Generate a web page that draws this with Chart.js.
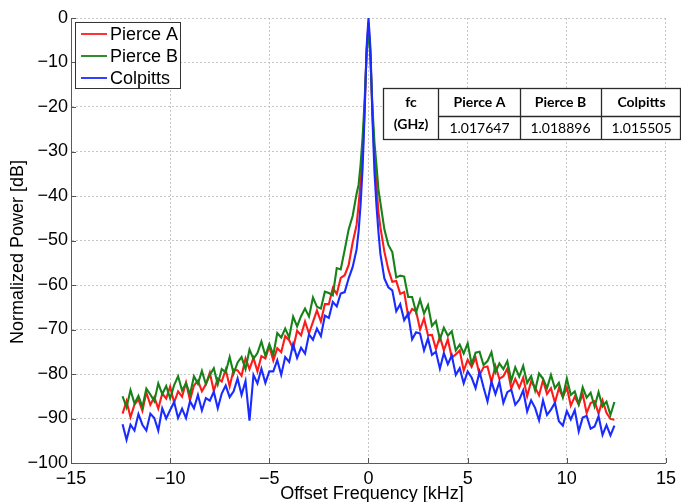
<!DOCTYPE html>
<html>
<head>
<meta charset="utf-8">
<script src="https://cdn.jsdelivr.net/npm/chart.js@4.4.0/dist/chart.umd.min.js"></script>
<style>
  html, body { margin: 0; padding: 0; background: #fff; }
  canvas { display: block; }
</style>
</head>
<body>
<canvas id="spectrumChart" width="681" height="502"></canvas>
<script>
// offset frequency in kHz (shared by all three traces)
const offsetFreq = [
  -12.4, -12.2, -12.0, -11.8, -11.6, -11.4, -11.2, -11.0, -10.8, -10.6, -10.4, -10.2, -10.0,
  -9.8, -9.6, -9.4, -9.2, -9.0, -8.8, -8.6, -8.4, -8.2, -8.0, -7.8, -7.6,
  -7.4, -7.2, -7.0, -6.8, -6.6, -6.4, -6.2, -6.0, -5.8, -5.6, -5.4, -5.2, -5.0,
  -4.8, -4.6, -4.4, -4.2, -4.0, -3.8, -3.6, -3.4, -3.2, -3.0,
  -2.8, -2.6, -2.4, -2.2, -2.0, -1.8, -1.6, -1.4, -1.2,
  -1.0, -0.8, -0.6, -0.5, -0.4, -0.3, -0.2, -0.1, 0, 0.1, 0.2, 0.3, 0.4, 0.5, 0.6, 0.8, 1.0,
  1.2, 1.4, 1.6, 1.8, 2.0, 2.2, 2.4, 2.6, 2.8, 3.0,
  3.2, 3.4, 3.6, 3.8, 4.0, 4.2, 4.4, 4.6, 4.8, 5.0,
  5.2, 5.4, 5.6, 5.8, 6.0, 6.2, 6.4, 6.6, 6.8, 7.0, 7.2, 7.4,
  7.6, 7.8, 8.0, 8.2, 8.4, 8.6, 8.8, 9.0, 9.2, 9.4, 9.6, 9.8, 10.0,
  10.2, 10.4, 10.6, 10.8, 11.0, 11.2, 11.4, 11.6, 11.8, 12.0, 12.2, 12.4
];

// normalized power in dB
const pierceA = [
  -88.9, -86.1, -89.7, -86.9, -85.7, -88.3, -84.1, -86.9, -85.2, -87.8, -84.4, -85.5, -82.8,
  -86.4, -83.9, -85.1, -81.9, -85.9, -82.6, -81.5, -83.9, -82.3, -79.7, -83.8, -81.0,
  -81.7, -79.0, -82.8, -79.0, -79.2, -80.4, -76.5, -78.9, -76.4, -79.4, -76.0, -76.5, -73.7,
  -77.0, -74.2, -75.1, -71.5, -72.4, -74.3, -70.3, -71.3, -68.2, -70.9,
  -68.3, -65.7, -68.2, -64.3, -64.3, -60.7, -62.0, -58.4, -57.8,
  -55.5, -50.5, -46.5, -42, -37, -31, -21, -8, -1, -8.5, -21.5, -31, -37.5, -43.5, -47, -52.5, -56.5,
  -59.3, -59.1, -62.0, -61.6, -67.0, -65.4, -65.9, -70.0, -67.5, -71.3,
  -71.2, -74.4, -71.6, -74.7, -72.2, -76.3, -75.6, -74.7, -79.3, -76.8,
  -78.4, -76.3, -80.2, -78.5, -78.3, -81.8, -78.2, -81.1, -80.5, -78.8, -83.3, -81.1,
  -83.1, -80.8, -85.0, -81.7, -83.0, -84.8, -81.4, -84.5, -83.2, -86.4, -83.2, -85.2, -83.0,
  -87.1, -85.1, -86.9, -84.5, -88.8, -86.5, -86.1, -88.9, -85.9, -88.7, -90.1, -90.3
];

const pierceB = [
  -85.0, -87.5, -83.6, -86.6, -84.9, -87.4, -83.3, -84.6, -86.1, -82.1, -84.5, -82.7, -85.5,
  -82.5, -80.5, -83.7, -82.1, -84.6, -80.5, -82.2, -79.3, -82.3, -80.2, -78.7, -82.3,
  -78.9, -79.6, -76.2, -79.9, -77.4, -76.2, -78.9, -74.5, -76.6, -75.3, -72.7, -75.9, -73.3,
  -75.7, -70.8, -71.8, -69.8, -71.8, -67.1, -69.3, -67.0, -65.3, -67.1,
  -62.8, -64.9, -65.3, -61.5, -61.8, -62.3, -56.2, -56.5, -52.1,
  -47.5, -44.5, -39.5, -37.5, -33, -27, -19, -9, -1.5, -9.5, -20, -28, -33, -38.5, -41.5, -47.5, -51,
  -52.6, -58.3, -57.9, -58.1, -62.7, -62.7, -66.1, -63.3, -66.4, -64.5,
  -69.2, -68.1, -72.2, -69.6, -71.4, -70.4, -74.7, -73.4, -75.4, -73.1,
  -77.8, -75.2, -75.0, -78.0, -77.1, -75.1, -79.6, -77.6, -78.9, -77.1, -81.5, -78.5,
  -80.6, -78.2, -82.0, -80.5, -83.7, -79.9, -81.1, -83.2, -80.2, -83.2, -82.0, -85.2, -81.0,
  -84.7, -83.9, -86.8, -83.0, -85.3, -84.2, -87.3, -84.1, -87.3, -86.2, -89.2, -86.3
];

const colpitts = [
  -91.3, -94.8, -91.4, -92.7, -89.0, -91.4, -92.7, -88.9, -89.9, -92.7, -87.7, -90.0, -88.1,
  -86.3, -89.9, -87.8, -89.9, -86.1, -87.7, -84.7, -88.2, -85.4, -86.0, -84.0, -87.7,
  -84.4, -82.6, -85.2, -83.9, -81.0, -84.7, -81.6, -90.5, -80.2, -82.1, -78.8, -82.0, -79.4,
  -79.4, -76.9, -80.2, -76.2, -77.3, -73.3, -76.4, -74.1, -75.4, -71.1,
  -72.3, -69.8, -71.5, -66.9, -67.4, -63.8, -64.8, -61.9, -61.6,
  -58.5, -56, -52, -48, -42, -34, -22, -7, 0, -7, -22.5, -34.5, -42, -48, -53, -58.5, -60.5,
  -61.2, -65.9, -64.3, -67.9, -66.4, -72.2, -70.6, -70.9, -74.7, -72.0,
  -75.7, -75.0, -78.8, -75.3, -77.8, -75.8, -80.2, -78.7, -82.1, -79.4,
  -80.8, -83.2, -79.5, -83.0, -86.2, -81.7, -84.5, -81.8, -86.5, -84.1, -83.5, -86.9,
  -85.8, -83.7, -88.4, -85.9, -87.6, -90.4, -85.9, -89.2, -88.0, -86.5, -90.6, -91.6, -88.3,
  -90.2, -88.1, -92.9, -89.8, -89.4, -92.3, -91.8, -89.5, -93.7, -91.5, -93.8, -91.6
];

const seriesNames = ['Pierce A', 'Pierce B', 'Colpitts'];
const seriesColors = ['#ff1a1a', '#178217', '#1a2bff'];

// centre-frequency table shown on the chart
const fcHeaders = ['Pierce A', 'Pierce B', 'Colpitts'];
const fcValues = ['1.017647', '1.018896', '1.015505'];

const AXIS_FONT = 'Liberation Sans, Arial, sans-serif';

function toPoints(values) {
  return offsetFreq.map((f, i) => ({ x: f, y: values[i] }));
}

function minusLabel(v) {
  return v < 0 ? '\u2212' + Math.abs(v) : String(v);
}

// legend box, fc table, axis titles and inward tick marks
const overlayPlugin = {
  id: 'overlay',
  afterDraw(chart) {
    const { ctx, chartArea, scales } = chart;
    ctx.save();

    // inward ticks
    ctx.strokeStyle = '#555';
    ctx.lineWidth = 1;
    ctx.beginPath();
    scales.x.ticks.forEach(t => {
      const px = Math.round(scales.x.getPixelForValue(t.value)) + 0.5;
      ctx.moveTo(px, chartArea.bottom);
      ctx.lineTo(px, chartArea.bottom - 5);
    });
    scales.y.ticks.forEach(t => {
      const py = Math.round(scales.y.getPixelForValue(t.value)) + 0.5;
      ctx.moveTo(chartArea.left, py);
      ctx.lineTo(chartArea.left + 5, py);
    });
    ctx.stroke();

    // axis titles
    ctx.fillStyle = '#000';
    ctx.font = '18px ' + AXIS_FONT;
    ctx.textAlign = 'center';
    ctx.textBaseline = 'middle';
    ctx.fillText('Offset Frequency [kHz]', 372, 494);
    ctx.save();
    ctx.translate(18, 252);
    ctx.rotate(-Math.PI / 2);
    ctx.fillText('Normalized Power [dB]', 0, 0);
    ctx.restore();

    // legend
    const lx = 75.5, ly = 22.5, lw = 105, lh = 66;
    ctx.fillStyle = '#fff';
    ctx.fillRect(lx, ly, lw, lh);
    ctx.strokeStyle = '#333';
    ctx.strokeRect(lx, ly, lw, lh);
    chart.data.datasets.forEach((ds, i) => {
      const y = 34 + i * 22;
      ctx.strokeStyle = ds.borderColor;
      ctx.lineWidth = 1.8;
      ctx.beginPath();
      ctx.moveTo(81, y);
      ctx.lineTo(107, y);
      ctx.stroke();
      ctx.fillStyle = '#000';
      ctx.textAlign = 'left';
      ctx.fillText(ds.label, 110, y + 1);
    });

    // fc table
    const tx = 383.5, ty = 88.5, tw = 297, th = 51;
    const cols = [438.5, 520.5, 601.5];
    const mid = 116.5;
    ctx.fillStyle = '#fff';
    ctx.fillRect(tx, ty, tw, th);
    ctx.strokeStyle = '#2a2a2a';
    ctx.lineWidth = 1.3;
    ctx.strokeRect(tx, ty, tw, th);
    ctx.beginPath();
    cols.forEach(c => { ctx.moveTo(c, ty); ctx.lineTo(c, ty + th); });
    ctx.moveTo(cols[0], mid);
    ctx.lineTo(tx + tw, mid);
    ctx.stroke();

    const centers = [479.5, 560.5, 641.5];
    ctx.fillStyle = '#000';
    ctx.textAlign = 'center';
    ctx.font = 'bold 14px Lato, "Open Sans", sans-serif';
    ctx.fillText('fc', 411, 102);
    ctx.fillText('(GHz)', 411, 124);
    fcHeaders.forEach((h, i) => ctx.fillText(h, centers[i], 102));
    ctx.font = '14px Lato, "Open Sans", sans-serif';
    fcValues.forEach((v, i) => ctx.fillText(v, centers[i], 128.5));

    ctx.restore();
  }
};

new Chart(document.getElementById('spectrumChart'), {
  type: 'line',
  data: {
    datasets: [
      { label: seriesNames[0], data: toPoints(pierceA), borderColor: seriesColors[0], order: 2 },
      { label: seriesNames[1], data: toPoints(pierceB), borderColor: seriesColors[1], order: 1 },
      { label: seriesNames[2], data: toPoints(colpitts), borderColor: seriesColors[2], order: 0 }
    ]
  },
  options: {
    responsive: false,
    animation: false,
    devicePixelRatio: 1,
    layout: { padding: { top: 18, right: 11, left: 0, bottom: 0 } },
    elements: {
      line: { borderWidth: 2.1, tension: 0, fill: false },
      point: { radius: 0 }
    },
    plugins: {
      legend: { display: false },
      tooltip: { enabled: false }
    },
    scales: {
      x: {
        type: 'linear',
        min: -15,
        max: 15,
        afterFit(scale) { scale.height = 39; },
        ticks: {
          stepSize: 5,
          maxRotation: 0,
          autoSkip: false,
          padding: 5,
          color: '#000',
          font: { family: AXIS_FONT, size: 18 },
          callback: minusLabel
        },
        grid: { color: '#c6c6c6', lineWidth: 1, drawTicks: false },
        border: { display: true, color: '#5a5a5a', width: 1, dash: [2, 2] }
      },
      y: {
        min: -100,
        max: 0,
        afterFit(scale) { scale.width = 71; },
        ticks: {
          stepSize: 10,
          padding: 3,
          color: '#000',
          font: { family: AXIS_FONT, size: 18 },
          callback: minusLabel
        },
        grid: { color: '#c6c6c6', lineWidth: 1, drawTicks: false },
        border: { display: true, color: '#5a5a5a', width: 1, dash: [2, 2] }
      }
    }
  },
  plugins: [overlayPlugin]
});
</script>
</body>
</html>
